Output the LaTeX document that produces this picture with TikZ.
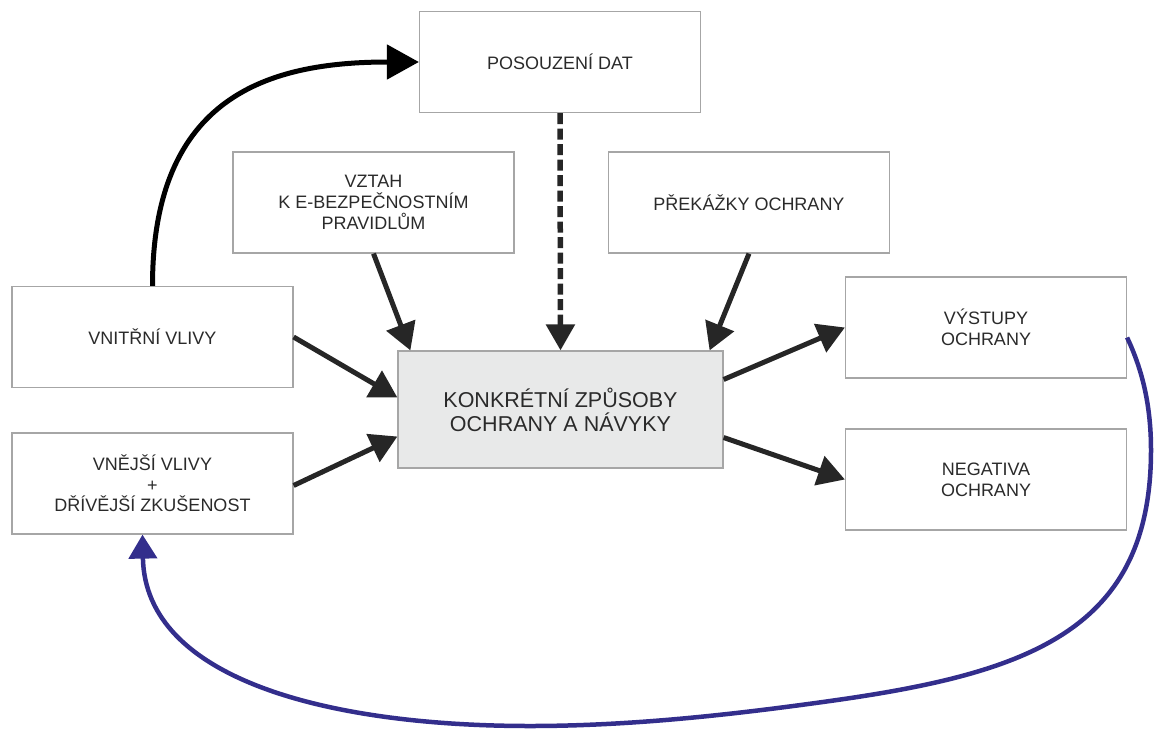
\documentclass[tikz,border=0pt]{standalone}
\usepackage{fontspec}
\setmainfont{Liberation Sans}
\usetikzlibrary{arrows.meta,calc}
\definecolor{boxline}{HTML}{A6A6A6}
\definecolor{txt}{HTML}{2A2A2A}
\definecolor{arr}{HTML}{262626}
\definecolor{loopblue}{HTML}{332E8C}
\definecolor{corefill}{HTML}{E8E9E9}
\begin{document}
\begin{tikzpicture}[x=1pt,y=-1pt,
  box/.style={draw=boxline, line width=1.2pt, minimum width=281pt, minimum height=101pt,
    align=center, text=txt, inner sep=0pt, font=\fontsize{18}{20.7}\selectfont},
  core/.style={box, fill=corefill, minimum width=325pt, minimum height=117pt,
    font=\fontsize{21.5}{24}\selectfont},
  flow/.style={draw=arr, line width=5pt, -{Triangle[length=27pt,width=30pt]}},
  dashflow/.style={draw=arr, line width=5.5pt, dash pattern=on 11pt off 4.5pt,
    -{Triangle[length=26pt,width=28pt]}},
  bigflow/.style={draw=black, line width=5pt, -{Triangle[length=32pt,width=34pt]}},
  loopflow/.style={draw=loopblue, line width=4.5pt, -{Triangle[length=24pt,width=28pt]}}]
\useasboundingbox (0,0) rectangle (1154,729);

% boxes
\node[box] (posouz) at (560,62) {POSOUZENÍ DAT};
\node[box] (vztah) at (373.5,202.5) {VZTAH\\K E-BEZPEČNOSTNÍM\\PRAVIDLŮM};
\node[box] (prek) at (749,202.5) {PŘEKÁŽKY OCHRANY};
\node[box] (vnitr) at (152.5,337) {VNITŘNÍ VLIVY};
\node[box] (vnej) at (152.5,483.5) {VNĚJŠÍ VLIVY\\+\\DŘÍVĚJŠÍ ZKUŠENOST};
\node[core] (ctr) at (560.5,409.5) {KONKRÉTNÍ ZPŮSOBY\\OCHRANY A NÁVYKY};
\node[box] (vys) at (986,327.5) {VÝSTUPY\\OCHRANY};
\node[box] (neg) at (986,479.5) {NEGATIVA\\OCHRANY};

% inputs into the central box
\draw[flow] (vztah.south) -- ($(ctr.north west)+(13,0)$);
\draw[flow] (prek.south) -- ($(ctr.north east)+(-14,0)$);
\draw[flow] (vnitr.east) -- ($(ctr.west)+(0,-12)$);
\draw[flow] ($(vnej.east)+(0,2)$) -- ($(ctr.west)+(0,27)$);
\draw[dashflow] (posouz.south) -- (ctr.north);

% outputs
\draw[flow] ($(ctr.east)+(0,-30)$) -- (vys.west);
\draw[flow] ($(ctr.east)+(0,28)$) -- (neg.west);

% internal influences feed data assessment
\draw[bigflow] (vnitr.north) .. controls +(0,-190) and +(-150,0) .. (posouz.west);

% feedback loop
\draw[loopflow] ($(vys.east)+(0,10)$)
  .. controls (1140,365) and (1151,400) .. (1151,450)
  .. controls (1151,630) and (1030,673) .. (830,701)
  .. controls (730,715) and (630,726) .. (530,726)
  .. controls (330,726) and (145,680) .. ($(vnej.south)+(-10,0)$);
\end{tikzpicture}
\end{document}
